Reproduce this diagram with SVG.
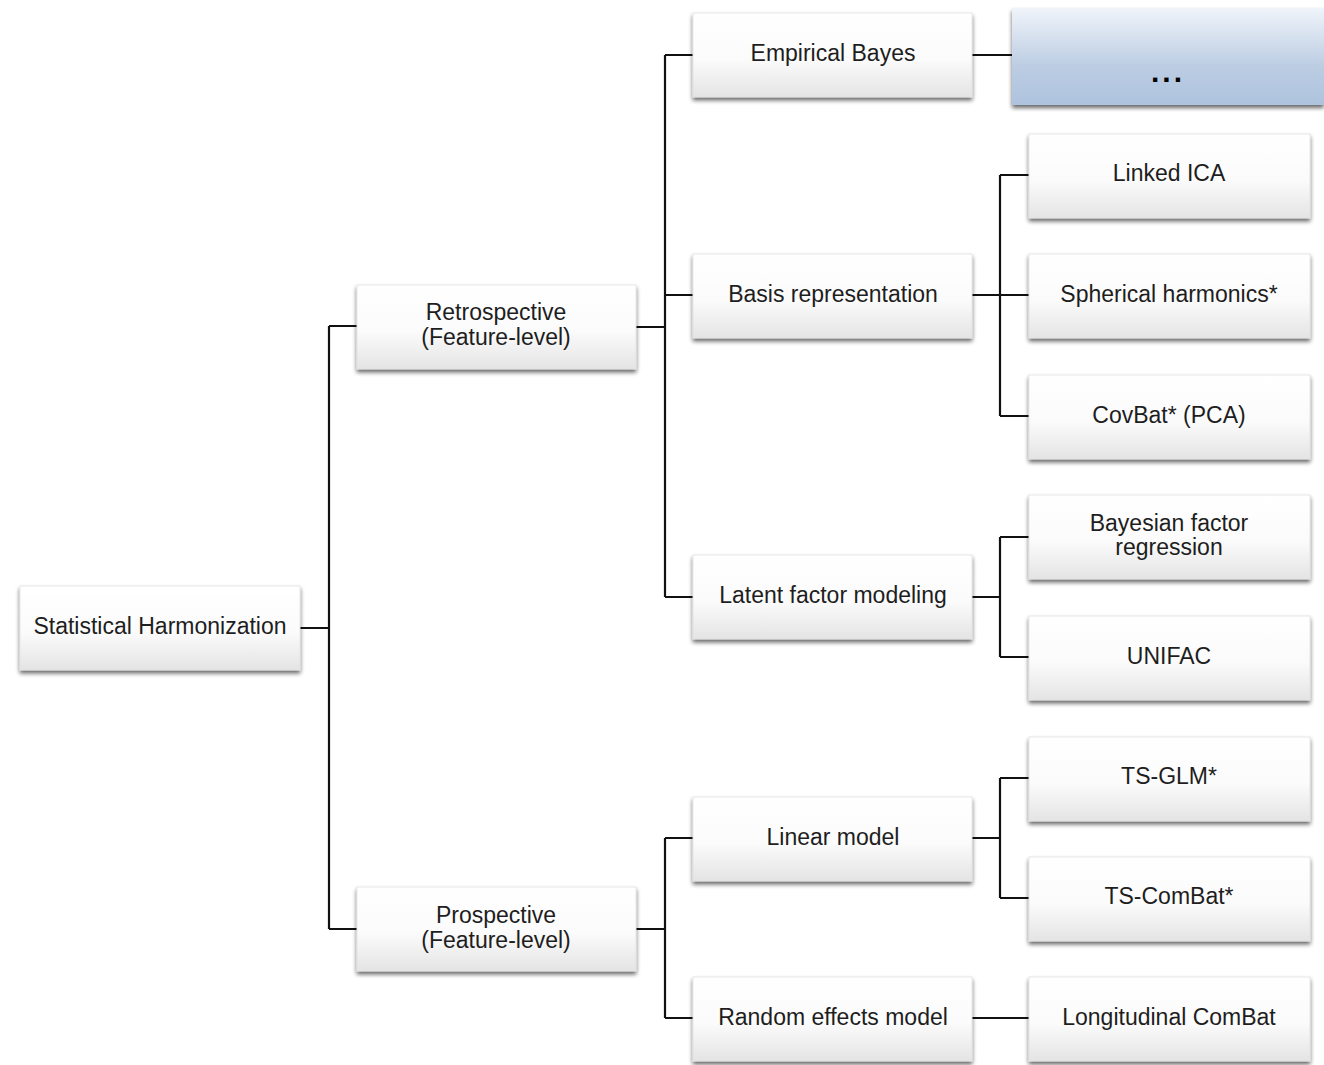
<svg xmlns="http://www.w3.org/2000/svg" width="1324" height="1065" viewBox="0 0 1324 1065">
<defs>
<linearGradient id="g" x1="0" y1="0" x2="0" y2="1">
<stop offset="0" stop-color="#ffffff"/>
<stop offset="0.55" stop-color="#fbfbfb"/>
<stop offset="1" stop-color="#e4e4e4"/>
</linearGradient>
<linearGradient id="gb" x1="0" y1="0" x2="0" y2="1">
<stop offset="0" stop-color="#f0f4fa"/>
<stop offset="0.6" stop-color="#bccde3"/>
<stop offset="1" stop-color="#aec3de"/>
</linearGradient>
<filter id="sh" x="-10%" y="-10%" width="120%" height="130%">
<feGaussianBlur in="SourceAlpha" stdDeviation="2"/>
<feOffset dx="0" dy="3" result="b"/>
<feComponentTransfer><feFuncA type="linear" slope="0.6"/></feComponentTransfer>
<feMerge><feMergeNode/><feMergeNode in="SourceGraphic"/></feMerge>
</filter>
</defs>
<style>
.box{fill:url(#g);stroke:#e0e0e0;stroke-width:0.8;filter:url(#sh)}
.t{font-family:"Liberation Sans",Arial,sans-serif;font-size:23px;fill:#1e1e1e;text-anchor:middle}
.c{fill:none;stroke:#111;stroke-width:2.2}
</style>
<g id="connectors">
<path class="c" d="M300 628H329M329 326V929M329 326H357M329 929H357"/>
<path class="c" d="M636 327H665M665 55V597M665 55H693M665 295H693M665 597H693"/>
<path class="c" d="M636 929H665M665 838V1018M665 838H693M665 1018H693"/>
<path class="c" d="M972 55H1012"/>
<path class="c" d="M972 295H1029M1000 175V416M1000 175H1029M1000 416H1029"/>
<path class="c" d="M972 597H1000M1000 537V657M1000 537H1029M1000 657H1029"/>
<path class="c" d="M972 838H1000M1000 778V898M1000 778H1029M1000 898H1029"/>
<path class="c" d="M972 1018H1029"/>
</g>
<g id="root"><rect class="box" x="20" y="586" width="280" height="84"/><text class="t" x="160" y="634">Statistical Harmonization</text></g>
<g id="retro"><rect class="box" x="357" y="285" width="279" height="84"/><text class="t" x="496" y="320">Retrospective</text><text class="t" x="496" y="345">(Feature-level)</text></g>
<g id="prosp"><rect class="box" x="357" y="887" width="279" height="84"/><text class="t" x="496" y="923">Prospective</text><text class="t" x="496" y="948">(Feature-level)</text></g>
<g id="eb"><rect class="box" x="693" y="13" width="279" height="84"/><text class="t" x="833" y="61">Empirical Bayes</text></g>
<g id="basis"><rect class="box" x="693" y="254" width="279" height="84"/><text class="t" x="833" y="302">Basis representation</text></g>
<g id="latent"><rect class="box" x="693" y="555" width="279" height="84"/><text class="t" x="833" y="603">Latent factor modeling</text></g>
<g id="linear"><rect class="box" x="693" y="797" width="279" height="84"/><text class="t" x="833" y="845">Linear model</text></g>
<g id="random"><rect class="box" x="693" y="977" width="279" height="84"/><text class="t" x="833" y="1025">Random effects model</text></g>
<g id="more"><rect x="1012" y="8" width="312" height="97" fill="url(#gb)" filter="url(#sh)"/><text x="1168" y="82" font-family="Liberation Sans,Arial,sans-serif" font-size="30" font-weight="bold" letter-spacing="3" text-anchor="middle" fill="#000">...</text></g>
<g id="lica"><rect class="box" x="1029" y="134" width="281" height="84"/><text class="t" x="1169" y="181">Linked ICA</text></g>
<g id="sph"><rect class="box" x="1029" y="254" width="281" height="84"/><text class="t" x="1169" y="302">Spherical harmonics*</text></g>
<g id="covbat"><rect class="box" x="1029" y="375" width="281" height="84"/><text class="t" x="1169" y="423">CovBat* (PCA)</text></g>
<g id="bfr"><rect class="box" x="1029" y="495" width="281" height="84"/><text class="t" x="1169" y="531">Bayesian factor</text><text class="t" x="1169" y="555">regression</text></g>
<g id="unifac"><rect class="box" x="1029" y="616" width="281" height="84"/><text class="t" x="1169" y="664">UNIFAC</text></g>
<g id="tsglm"><rect class="box" x="1029" y="737" width="281" height="84"/><text class="t" x="1169" y="784">TS-GLM*</text></g>
<g id="tscombat"><rect class="box" x="1029" y="857" width="281" height="84"/><text class="t" x="1169" y="904">TS-ComBat*</text></g>
<g id="longcombat"><rect class="box" x="1029" y="977" width="281" height="84"/><text class="t" x="1169" y="1025">Longitudinal ComBat</text></g>
</svg>
